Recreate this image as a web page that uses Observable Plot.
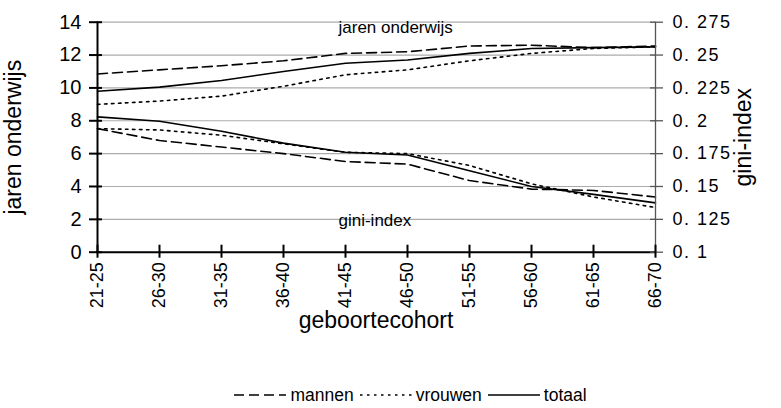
<!DOCTYPE html>
<html>
<head>
<meta charset="utf-8">
<script src="https://cdn.jsdelivr.net/npm/d3@7"></script>
<script src="https://cdn.jsdelivr.net/npm/@observablehq/plot@0.6"></script>
<style>
  html, body { margin: 0; padding: 0; background: #fff; }
  body { width: 781px; height: 408px; overflow: hidden; font-family: "Liberation Sans", Arial, sans-serif; }
  #legend { display: flex; justify-content: center; align-items: center; height: 30px; margin-top: 35px; padding-left: 40px; font-size: 17.5px; color: #000; }
  #legend .item { display: flex; align-items: center; margin: 0 3px; }
  #legend svg { margin-right: 4px; }
</style>
</head>
<body>
<div id="chart"></div>
<div id="legend"></div>
<script>
const cohorts = ["21-25","26-30","31-35","36-40","41-45","46-50","51-55","56-60","61-65","66-70"];

// jaren onderwijs (left axis)
const eduMannen  = [10.85, 11.1, 11.35, 11.65, 12.1, 12.2, 12.55, 12.6, 12.45, 12.55];
const eduVrouwen = [9.0, 9.2, 9.5, 10.1, 10.8, 11.1, 11.65, 12.1, 12.4, 12.5];
const eduTotaal  = [9.8, 10.05, 10.45, 11.0, 11.5, 11.7, 12.1, 12.4, 12.45, 12.5];

// gini-index (right axis)
const giniMannen  = [0.194, 0.185, 0.180, 0.175, 0.169, 0.167, 0.1545, 0.148, 0.147, 0.142];
const giniVrouwen = [0.194, 0.193, 0.189, 0.1825, 0.176, 0.175, 0.166, 0.152, 0.142, 0.134];
const giniTotaal  = [0.203, 0.1996, 0.192, 0.183, 0.176, 0.174, 0.162, 0.150, 0.144, 0.1375];

const leftTicks = [0, 2, 4, 6, 8, 10, 12, 14];
const giniTickLabels = ["0. 1","0. 125","0. 15","0. 175","0. 2","0. 225","0. 25","0. 275"];
const giniMin = 0.1, giniMax = 0.275, leftMax = 14;

const seriesNames = ["mannen", "vrouwen", "totaal"];
const dashes = {mannen: "10,5", vrouwen: "2.5,4.5", totaal: null};

const eduData = [];
[eduMannen, eduVrouwen, eduTotaal].forEach((arr, i) =>
  arr.forEach((v, j) => eduData.push({cohort: cohorts[j], value: v, series: seriesNames[i]})));
const giniData = [];
[giniMannen, giniVrouwen, giniTotaal].forEach((arr, i) =>
  arr.forEach((v, j) => giniData.push({cohort: cohorts[j], value: v, series: seriesNames[i]})));

const toLeft = g => (g - giniMin) / (giniMax - giniMin) * leftMax;

const lineMarks = [];
for (const s of seriesNames) {
  lineMarks.push(Plot.line(eduData.filter(d => d.series === s), {
    x: "cohort", y: "value", stroke: "#000", strokeWidth: 1.6, strokeDasharray: dashes[s]
  }));
  lineMarks.push(Plot.line(giniData.filter(d => d.series === s), {
    x: "cohort", y: d => toLeft(d.value), stroke: "#000", strokeWidth: 1.6, strokeDasharray: dashes[s]
  }));
}

const chart = Plot.plot({
  width: 781,
  height: 345,
  marginLeft: 96,
  marginRight: 126,
  marginTop: 21.7,
  marginBottom: 93.3,
  x: {type: "point", domain: cohorts, padding: 0},
  y: {domain: [0, leftMax]},
  style: {fontFamily: "Liberation Sans, Arial, sans-serif", fontSize: "17px", color: "#000", background: "#fff"},
  marks: [
    Plot.ruleY(leftTicks.filter(t => t > 0), {stroke: "#ababab", strokeWidth: 1.2}),
    ...lineMarks,
    Plot.text(["jaren onderwijs"], {x: () => cohorts[4], y: () => 13.7, dx: -7, text: d => d, textAnchor: "start", fontSize: 17}),
    Plot.text(["gini-index"], {x: () => cohorts[4], y: () => 1.95, dx: -7, text: d => d, textAnchor: "start", fontSize: 17}),
    Plot.ruleX([cohorts[0]], {stroke: "#000", strokeWidth: 2}),
    Plot.ruleX([cohorts[cohorts.length - 1]], {stroke: "#555", strokeWidth: 1.3}),
    Plot.ruleY([0], {stroke: "#000", strokeWidth: 2}),
    Plot.axisY({ticks: leftTicks, tickSize: 13, dx: 6, text: null, label: null, strokeWidth: 2}),
    Plot.axisY({ticks: leftTicks, tickSize: 0, tickPadding: 15, fontSize: 20, label: "jaren onderwijs", labelAnchor: "center", labelArrow: "none", labelOffset: 92}),
    Plot.axisY({anchor: "right", ticks: leftTicks, tickSize: 13, dx: -6, text: null, label: null, stroke: "#555", strokeWidth: 1.3}),
    Plot.axisY({anchor: "right", ticks: leftTicks, tickSize: 0, tickPadding: 17, fontSize: 18, tickFormat: (v, i) => giniTickLabels[i], label: "gini-index", labelAnchor: "center", labelArrow: "none", labelOffset: 95}),
    Plot.axisX({ticks: cohorts, tickSize: 13, dy: -7, text: null, label: null, strokeWidth: 2}),
    Plot.axisX({ticks: cohorts, tickSize: 0, tickPadding: 10, tickRotate: -90, fontSize: 18, label: "geboortecohort", labelAnchor: "center", labelArrow: "none", labelOffset: 76})
  ]
});
document.getElementById("chart").appendChild(chart);

// enlarge the axis titles and space out the right tick labels
chart.querySelectorAll("g[aria-label='y-axis label'], g[aria-label='x-axis label']").forEach(g => {
  g.setAttribute("font-size", "23");
});
chart.querySelectorAll("g[aria-label='y-axis tick label']").forEach(g => {
  if (g.getAttribute("text-anchor") === "start") g.setAttribute("letter-spacing", "1.5px");
});

// legend
const legend = document.getElementById("legend");
for (const s of seriesNames) {
  const item = document.createElement("div");
  item.className = "item";
  const svg = d3.create("svg").attr("width", 52).attr("height", 12);
  svg.append("line").attr("x1", 0).attr("x2", 52).attr("y1", 6).attr("y2", 6)
    .attr("stroke", "#000").attr("stroke-width", 1.6)
    .attr("stroke-dasharray", dashes[s]);
  item.appendChild(svg.node());
  const span = document.createElement("span");
  span.textContent = s;
  item.appendChild(span);
  legend.appendChild(item);
}
</script>
</body>
</html>
